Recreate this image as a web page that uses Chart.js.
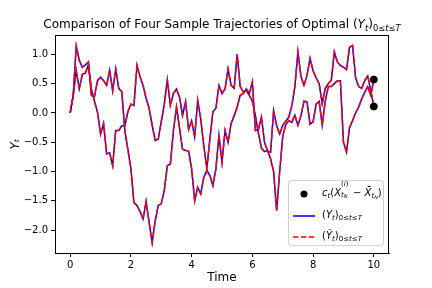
<!DOCTYPE html>
<html>
<head>
<meta charset="utf-8">
<script src="https://cdn.jsdelivr.net/npm/chart.js@4.4.0/dist/chart.umd.min.js"></script>
<style>
  body { margin: 0; background: #fff; }
  #wrap { position: relative; width: 432px; height: 288px; font-family: "DejaVu Sans", sans-serif; color: #000; }
  #title { position: absolute; left: 0; width: 444px; top: 17px; text-align: center; font-size: 12px; line-height: 14px; white-space: nowrap; }
  sub { font-size: 70%; vertical-align: -0.3em; line-height: 0; }
  .ss { display: inline-block; position: relative; width: 12px; height: 10px; vertical-align: baseline; }
  .ss .sp { position: absolute; left: 0; top: -5px; font-size: 7px; line-height: 7px; }
  .ss .sb { position: absolute; left: 0; top: 6px; font-size: 7px; line-height: 7px; }
  .ss .sb sub { font-size: 5px; vertical-align: -0.2em; }
  #legend { position: absolute; left: 288px; top: 180px; width: 96px; height: 66px; border: 1px solid #d0d0d0; border-radius: 3px; background: rgba(255,255,255,0.8); box-sizing: border-box; }
  #legend svg { position: absolute; left: 0; top: 0; }
  .row { position: absolute; left: 33px; font-size: 10px; line-height: 14px; white-space: nowrap; }
</style>
</head>
<body>
<div id="wrap">
  <canvas id="chart" width="432" height="288"></canvas>
  <div id="title">Comparison of Four Sample Trajectories of Optimal (<i>Y</i><sub><i>t</i></sub>)<sub>0≤<i>t</i>≤<i>T</i></sub></div>
  <div id="legend">
    <svg width="96" height="66">
      <circle cx="15" cy="13" r="3.5" fill="#000"></circle>
      <line x1="4" y1="35" x2="26" y2="35" stroke="#0000ff" stroke-width="1.5"></line>
      <line x1="4" y1="56" x2="26" y2="56" stroke="#ff0000" stroke-width="1.5" stroke-dasharray="5.5 2.4"></line>
    </svg>
    <div class="row" style="top:5px"><i>c</i><sub><i>t</i></sub>(<i>X</i><span class="ss"><span class="sp">(<i>i</i>)</span><span class="sb"><i>t</i><sub><i>N</i></sub></span></span>− <i>X̄</i><sub><i>t</i><sub><i>N</i></sub></sub>)</div>
    <div class="row" style="top:27px">(<i>Y</i><sub><i>t</i></sub>)<sub>0≤<i>t</i>≤<i>T</i></sub></div>
    <div class="row" style="top:48px">(<i>Ỹ</i><sub><i>t</i></sub>)<sub>0≤<i>t</i>≤<i>T</i></sub></div>
  </div>
</div>
<script>
// time grid of the simulation, dt = 0.1 on [0, 10]
const times = Array.from({ length: 101 }, (_, i) => i / 10);

// first sample path (the one dipping to -2.2 around t = 2.7)
const pathA = [
  0, 0.3, 1.14, 0.9, 0.78, 0.82, 0.87, 0.3, 0.28, 0.55,
  0.61, 0.55, 0.47, 0.73, 0.38, 0.75, 0.42, 0.36, -0.3, -0.62,
  -0.95, -1.53, -1.58, -1.68, -1.81, -1.51, -1.87, -2.21, -1.84, -1.58,
  -1.55, -1.32, -0.9, -0.87, -0.3, 0.1, -0.25, -0.62, -0.64, -0.65,
  -0.95, -1.5, -1.27, -1.38, -1.1, -0.98, -1.07, -1.24, -0.95, -0.38,
  -0.84, -0.3, -0.5, -0.18, -0.05, 0.1, 0.3, 0.33, 0.41, 0.33,
  0.53, -0.3, -0.28, -0.07, -0.5, -0.65, -0.67, 0.04, -0.22, -0.36,
  -0.21, -0.14, -0.07, 0.12, 0.45, 1.04, 0.62, 0.47, 0.64, 0.93,
  0.72, 0.6, 0.5, 0.16, 0.42, 0.5, 0.56, 1.04, 0.87, 0.81,
  0.78, 0.74, 1.12, 1.15, 0.6, 0.45, 0.42, 0.55, 0.63, 0.38,
  0.11
];

// second sample path
const pathB = [
  0, 0.3, 0.72, 0.41, 0.66, 0.68, 0.82, 0.4, 0.2, 0.01,
  -0.36, -0.18, -0.7, -0.68, -0.9, -0.3, -0.3, -0.22, -0.22, 0.02,
  0.15, 0.13, 0.81, 0.62, 0.47, 0.25, 0.08, -0.21, -0.47, -0.45,
  -0.15, 0.15, 0.56, 0.13, 0.33, 0.41, 0.27, -0.04, 0.19, -0.28,
  -0.13, -0.41, 0.21, -0.1, -0.56, -0.95, -0.45, 0.02, 0.08, 0.47,
  0.33, 0.41, 0.75, 0.47, 0.42, 1.0, 0.45, 0.36, 0.38, 0.3,
  0.2, -0.05, -0.35, -0.6, -0.66, -0.64, -0.78, -1.0, -1.67, -1.0,
  -0.4, -0.2, -0.13, -0.16, -0.04, -0.21, -0.05, 0.2, 0.19, -0.19,
  -0.15, 0.15, 0.2, -0.21, 0.2, 0.45, 0.45, 0.5, 0.55, 0.55,
  -0.5, -0.67, -0.25, -0.13, 0.0, 0.1, 0.24, 0.35, 0.45, 0.3,
  0.57
];

// terminal values c_t(X^(i)_tN - Xbar_tN)
const endTimes = [10, 10];
const endValues = [0.57, 0.11];

const xTicks = [0, 2, 4, 6, 8, 10];
const yTicks = [-2.0, -1.5, -1.0, -0.5, 0.0, 0.5, 1.0];

const font = "DejaVu Sans";

function toPoints(vals) {
  return vals.map((v, i) => ({ x: times[i], y: v }));
}

function lineSet(vals, color, dash) {
  return {
    type: "line",
    data: toPoints(vals),
    borderColor: color,
    borderWidth: 1.5,
    borderDash: dash,
    pointRadius: 0,
    tension: 0,
    fill: false
  };
}

const frame = {
  id: "frame",
  afterDraw(chart) {
    const { ctx, chartArea: a } = chart;
    ctx.save();
    ctx.strokeStyle = "#000";
    ctx.lineWidth = 1;
    ctx.strokeRect(Math.round(a.left) + 0.5, Math.round(a.top) + 0.5,
      Math.round(a.right - a.left) - 1, Math.round(a.bottom - a.top));
    ctx.restore();
  }
};

new Chart(document.getElementById("chart"), {
  type: "line",
  data: {
    datasets: [
      {
        type: "scatter",
        data: endTimes.map((t, i) => ({ x: t, y: endValues[i] })),
        backgroundColor: "#000",
        borderColor: "#000",
        pointRadius: 3.5
      },
      lineSet(pathA, "#ff0000", [5.5, 2.4]),
      lineSet(pathB, "#ff0000", [5.5, 2.4]),
      lineSet(pathA, "#0000ff", []),
      lineSet(pathB, "#0000ff", [])
    ]
  },
  options: {
    responsive: false,
    animation: false,
    layout: { padding: { top: 35, right: 43, left: 0, bottom: 0 } },
    plugins: { legend: { display: false }, tooltip: { enabled: false } },
    scales: {
      x: {
        type: "linear",
        min: -0.5,
        max: 10.5,
        afterBuildTicks: s => { s.ticks = xTicks.map(v => ({ value: v })); },
        afterFit: s => { s.height = 35; },
        ticks: { font: { family: font, size: 10 }, color: "#000", padding: 2 },
        grid: { drawOnChartArea: false, tickLength: 4, color: "#000" },
        border: { display: true, color: "#000" },
        title: { display: true, text: "Time", color: "#000", font: { family: font, size: 12 }, padding: { top: 0, bottom: 3 } }
      },
      y: {
        min: -2.39,
        max: 1.33,
        afterBuildTicks: s => { s.ticks = yTicks.map(v => ({ value: v })); },
        afterFit: s => { s.width = 55; },
        ticks: {
          font: { family: font, size: 10 },
          color: "#000",
          padding: 3,
          callback: v => v.toFixed(1).replace("-", "\u2212")
        },
        grid: { drawOnChartArea: false, tickLength: 4, color: "#000" },
        border: { display: true, color: "#000" },
        title: { display: true, text: "Y\u209c", color: "#000", font: { family: font, size: 12, style: "italic" }, padding: { top: 9, bottom: 0 } }
      }
    }
  },
  plugins: [frame]
});
</script>
</body>
</html>
